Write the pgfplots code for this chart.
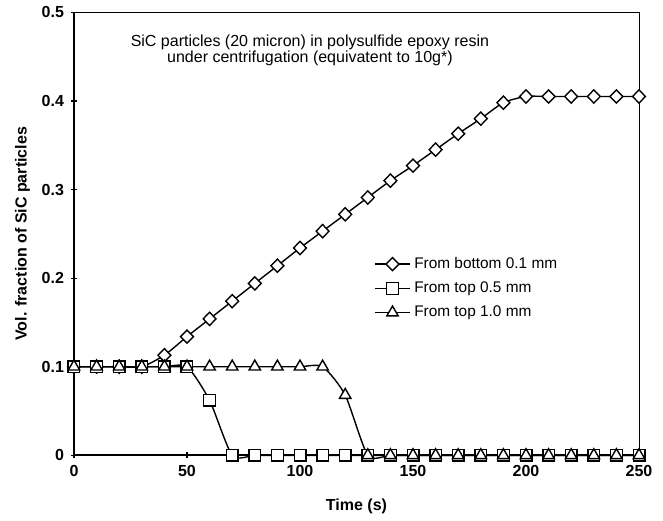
\documentclass[border=0pt]{standalone}
\usepackage{fontspec}
\setmainfont{Liberation Sans}
\usepackage{pgfplots}
\pgfplotsset{compat=1.18}

% volume fraction of SiC vs time
\pgfplotstableread{
t   bot    top05  top10
0   0.100  0.100  0.100
10  0.100  0.100  0.100
20  0.100  0.100  0.100
30  0.100  0.100  0.100
40  0.113  0.100  0.100
50  0.134  0.100  0.100
60  0.154  0.062  0.100
70  0.174  0.000  0.100
80  0.194  0.000  0.100
90  0.214  0.000  0.100
100 0.234  0.000  0.100
110 0.253  0.000  0.100
120 0.272  0.000  0.068
130 0.291  0.000  0.000
140 0.310  0.000  0.000
150 0.327  0.000  0.000
160 0.345  0.000  0.000
170 0.363  0.000  0.000
180 0.380  0.000  0.000
190 0.398  0.000  0.000
200 0.405  0.000  0.000
210 0.405  0.000  0.000
220 0.405  0.000  0.000
230 0.405  0.000  0.000
240 0.405  0.000  0.000
250 0.405  0.000  0.000
}\vol

\begin{document}
\begin{tikzpicture}
\begin{axis}[
  width=282.5pt, height=221.5pt, scale only axis,
  xmin=0, xmax=250, ymin=0, ymax=0.5,
  xtick={0,50,...,250}, ytick={0,0.1,0.2,0.3,0.4,0.5},
  xtick pos=bottom, ytick pos=left,
  tick align=center, major tick length=3pt,
  tick style={black, line width=0.6pt},
  axis line style={line width=0.5pt},
  ticklabel style={font=\fontsize{8}{9}\selectfont\bfseries},
  /pgf/number format/assume math mode=true,
  xlabel={Time (s)}, ylabel={Vol. fraction of SiC particles},
  label style={font=\fontsize{8}{9}\selectfont\bfseries},
  xlabel style={yshift=-4pt},
  ylabel style={yshift=-1pt},
  legend style={draw=none, fill=none, at={(axis cs:132,0.231)}, anchor=north west,
    font=\fontsize{7.7}{9}\selectfont, row sep=1.2pt, inner sep=1pt},
  legend cell align=left,
  every axis plot/.append style={black, line width=0.7pt, smooth, tension=0.4,
    mark options={solid, fill=white, line width=0.7pt}},
  clip=false,
]
\draw[line width=1.1pt] (rel axis cs:0,1) -- (rel axis cs:0,0) -- (rel axis cs:1,0);
\addplot[mark=diamond*, mark size=3.3pt,
  mark options={solid, fill=white, line width=0.7pt, xscale=1.3}] table[x=t, y=bot] {\vol};
\addplot[mark=square*, mark size=2.9pt] table[x=t, y=top05] {\vol};
\addplot[mark=triangle*, mark size=3.3pt] table[x=t, y=top10] {\vol};
\legend{From bottom 0.1 mm, From top 0.5 mm, From top 1.0 mm}
\node[align=center, font=\fontsize{8}{8.3}\selectfont] at (axis cs:104.4,0.457)
  {SiC particles (20 micron) in polysulfide epoxy resin\\under centrifugation (equivatent to 10g*)};
\end{axis}
% page margins as in the reference
\path (current axis.south west) ++(-37pt,-31.5pt);
\path (current axis.north east) ++(12pt,5.5pt);
\end{tikzpicture}
\end{document}
